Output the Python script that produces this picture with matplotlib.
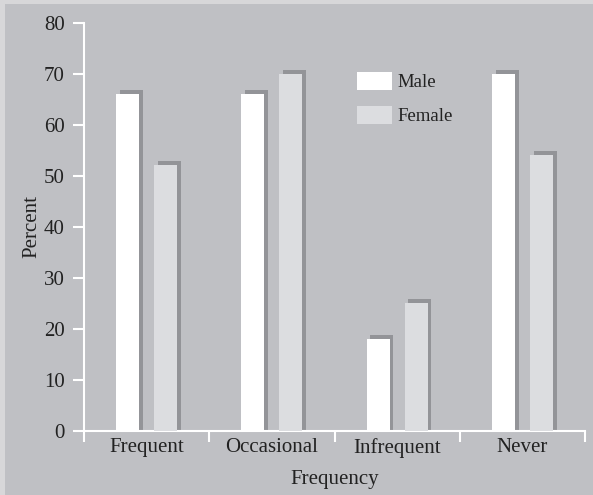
import numpy as np
import matplotlib
matplotlib.use("Agg")
from matplotlib import pyplot as plt
from matplotlib.patches import Rectangle

''' Data '''
categories = ["Frequent", "Occasional", "Infrequent", "Never"]
male = [66, 66, 18, 70]
female = [52, 70, 25, 54]

''' Style '''
BG = "#bfc0c4"
BORDER = "#d7d7d9"
SHADOW = "#939498"
MALE_C = "#ffffff"
FEMALE_C = "#dcdde0"
TEXT_C = "#222222"
BAR_W = 0.184
OFFSET = 0.152
SHADOW_DX = 0.03   # data units (x), ~4 px
SHADOW_DY = 0.8    # data units (y), ~4 px
FS = 15

plt.rcParams["font.family"] = ["Liberation Serif", "DejaVu Serif"]

W, H = 593, 495
fig = plt.figure(figsize=(W / 100, H / 100), dpi=100, facecolor=BORDER)
# grey panel behind everything, leaving a thin light strip top and left
fig.patches.append(Rectangle((4.5 / W, 0), 1, 1 - 4 / H, transform=fig.transFigure,
                             facecolor=BG, edgecolor="none", zorder=-10))

ax = fig.add_axes([84 / W, 1 - 430.7 / H, (585 - 84) / W, (430.7 - 22.7) / H])
ax.set_facecolor("none")

x = np.arange(len(categories))

# drop shadows first, then the bars themselves
for xs, vals, col in ((x - OFFSET, male, MALE_C), (x + OFFSET, female, FEMALE_C)):
    ax.bar(xs + SHADOW_DX, np.array(vals) + SHADOW_DY, width=BAR_W,
           color=SHADOW, edgecolor="none", zorder=2)
    ax.bar(xs, vals, width=BAR_W, color=col, edgecolor="none", zorder=3)

ax.set_xlim(-0.5, 3.5)
ax.set_ylim(0, 80)
ax.set_yticks(range(0, 81, 10))
ax.set_xticks(x)
ax.set_xticklabels(categories)
ax.set_xticks(np.arange(-0.5, 4, 1), minor=True)

for s in ("top", "right"):
    ax.spines[s].set_visible(False)
for s in ("left", "bottom"):
    ax.spines[s].set_color("white")
    ax.spines[s].set_linewidth(1.5)

ax.tick_params(axis="y", direction="out", length=8, width=1.5, color="white",
               labelsize=FS, labelcolor=TEXT_C, pad=6)
ax.tick_params(axis="x", which="major", length=0, labelsize=FS,
               labelcolor=TEXT_C, pad=5)
ax.tick_params(axis="x", which="minor", direction="out", length=8, width=1.5,
               color="white")

ax.set_ylabel("Percent", fontsize=FS, color=TEXT_C, labelpad=2)
ax.set_xlabel("Frequency", fontsize=FS, color=TEXT_C, labelpad=9)

handles = [Rectangle((0, 0), 1, 1, facecolor=MALE_C, edgecolor="none"),
           Rectangle((0, 0), 1, 1, facecolor=FEMALE_C, edgecolor="none")]
ax.legend(handles, ["Male", "Female"], frameon=False, fontsize=13.5,
          loc="upper left", bbox_to_anchor=((356 - 84) / 501 - 0.012, 1 - (64 - 22.7) / 408),
          handlelength=1.85, handleheight=1.15, labelspacing=0.78, handletextpad=0.3,
          borderaxespad=0, labelcolor=TEXT_C)

fig.savefig("out.png", dpi=100, facecolor=fig.get_facecolor())
